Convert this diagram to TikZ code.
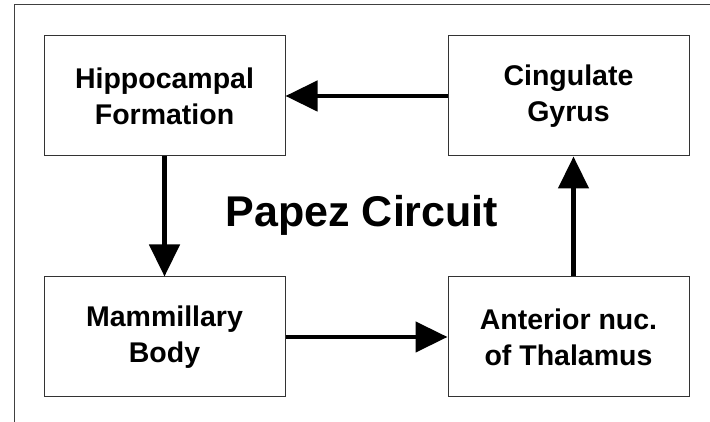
\documentclass[tikz,border=0pt]{standalone}
\usepackage{fontspec}
\setmainfont{Liberation Sans}
\usetikzlibrary{positioning,arrows.meta}

\tikzset{
  box/.style={draw=black!80,line width=1pt,minimum width=241pt,minimum height=120pt,
    inner sep=0pt,align=center,font=\fontsize{28.5}{36}\selectfont\bfseries},
  conn/.style={line width=4.5pt,-{Triangle[length=32pt,width=30pt]}}
}

\begin{document}
\begin{tikzpicture}[x=1pt,y=1pt]
  \useasboundingbox (0,0) rectangle (710,422);
  % outer frame, runs off the page on the right and at the bottom
  \draw[black!75,line width=1pt] (14,-20) -- (14,417) -- (730,417);

  \node[box] (hip) at (164.5,326) {Hippocampal\\Formation};
  \node[box,right=162pt of hip] (cing) {Cingulate\\Gyrus};
  \node[box,below=120pt of hip] (mam) {Mammillary\\Body};
  \node[box,right=162pt of mam] (ant) {Anterior nuc.\\of Thalamus};

  \node[anchor=base,font=\fontsize{43}{50}\selectfont\bfseries] (title) at (362,195) {Papez Circuit};

  \draw[conn] (cing) -- (hip);
  \draw[conn] (hip) -- (mam);
  \draw[conn] (mam) -- (ant);
  \draw[conn] ([xshift=5pt]ant.north) -- ([xshift=5pt]cing.south);
\end{tikzpicture}
\end{document}
